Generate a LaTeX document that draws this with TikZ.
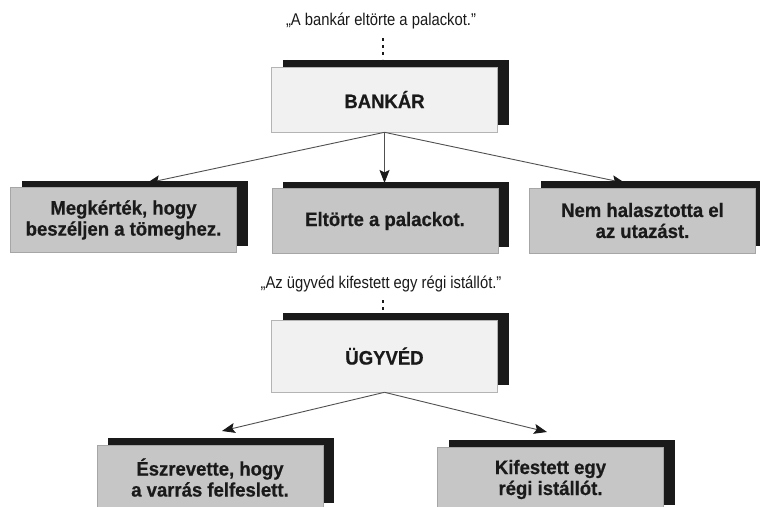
\documentclass[tikz,border=0pt]{standalone}
\usepackage{fontspec}
\setmainfont{Liberation Sans}
\newfontfamily\quotefont[FakeStretch=0.87]{Liberation Sans}
\newfontfamily\boxfont[FakeStretch=0.95,FakeBold=0.6]{Liberation Sans Bold}
\usetikzlibrary{arrows.meta,shadows}
\definecolor{ink}{HTML}{1A1A1A}
\definecolor{paleface}{HTML}{F1F1F1}
\definecolor{paleedge}{HTML}{B4B4B4}
\definecolor{greyface}{HTML}{C6C6C6}
\definecolor{greyedge}{HTML}{A6A6A6}
\definecolor{linkgrey}{HTML}{505050}
\tikzset{
  x=1pt, y=1pt,
  boxbase/.style={rectangle, minimum width=226pt, minimum height=65pt,
    inner sep=0pt, align=center, text=ink, line width=0.6pt,
    font=\boxfont\fontsize{19.5}{21}\selectfont,
    drop shadow={shadow xshift=11pt, shadow yshift=7pt, fill=ink, opacity=1}},
  headbox/.style={boxbase, fill=paleface, draw=paleedge},
  answerbox/.style={boxbase, fill=greyface, draw=greyedge},
  sentence/.style={inner sep=0pt, text=ink, font=\quotefont\fontsize{17}{20}\selectfont},
  dotlink/.style={draw=ink, line width=2.4pt, dash pattern=on 3pt off 4pt},
  link/.style={draw=linkgrey, line width=0.9pt,
    -{Stealth[length=13pt, width=10pt, inset=2.5pt, color=ink]}}
}
\begin{document}
\begin{tikzpicture}
\useasboundingbox (0,0) rectangle (760,-506);
\clip (0,0) rectangle (760,-506);
\fill[white] (0,0) rectangle (760,-506);

% first sentence and its word sense tree
\node[sentence] (q1) at (381,-21) {„A bankár eltörte a palackot.”};
\node[headbox] (bank) at (384.5,-99.5) {BANKÁR};
\node[answerbox] (b1) at (123.5,-220) {Megkérték, hogy\\beszéljen a tömeghez.};
\node[answerbox] (b2) at (385,-221) {Eltörte a palackot.};
\node[answerbox] (b3) at (642.5,-220.5) {Nem halasztotta el\\az utazást.};

\coordinate (t1) at (147,-183);
\coordinate (t2) at (384.5,-183);
\coordinate (t3) at (625,-183);

\draw[dotlink] (383,-38) -- (383,-59);
\draw[link] (bank.south) -- (t1);
\draw[link] (bank.south) -- (t2);
\draw[link] (bank.south) -- (t3);

% second sentence and its word sense tree
\node[sentence] (q2) at (381,-284) {„Az ügyvéd kifestett egy régi istállót.”};
\node[headbox, minimum height=72pt] (lawyer) at (384.5,-356) {ÜGYVÉD};
\node[answerbox] (c1) at (210,-477.5) {Észrevette, hogy\\a varrás felfeslett.};
\node[answerbox] (c2) at (550.5,-479.5) {Kifestett egy\\régi istállót.};

\coordinate (u1) at (222,-431);
\coordinate (u2) at (547,-432);

\draw[dotlink] (383,-300) -- (383,-319);
\draw[link] (lawyer.south) -- (u1);
\draw[link] (lawyer.south) -- (u2);
\end{tikzpicture}
\end{document}
